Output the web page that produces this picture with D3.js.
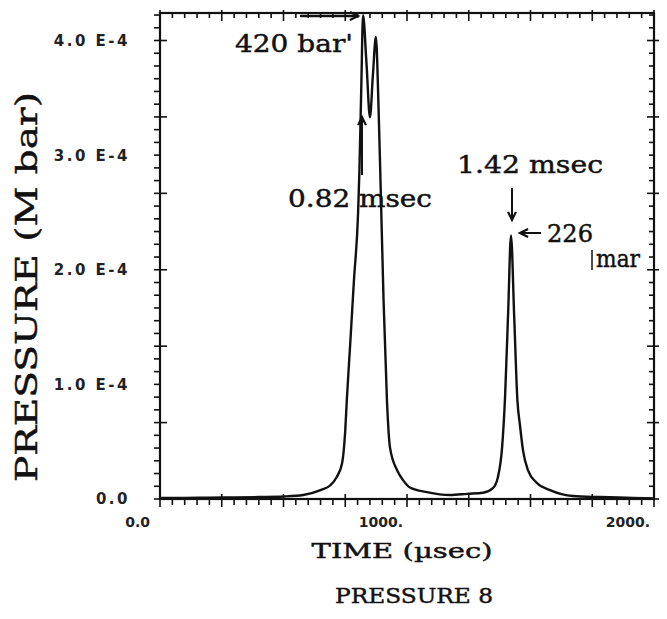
<!DOCTYPE html>
<html>
<head>
<meta charset="utf-8">
<script src="https://cdn.jsdelivr.net/npm/d3@7"></script>
<style>
  body { margin: 0; background: #fff; }
  svg { display: block; }
  .ann { font-family: "DejaVu Serif", serif; fill: #111; stroke: #111; stroke-width: 0.45px; }
  .tick-lbl { font-family: "DejaVu Sans", sans-serif; font-weight: bold; fill: #222; }
</style>
</head>
<body>
<svg width="667" height="619"></svg>
<script>
// time in usec, pressure in units of 1e-4 M bar
var timeUs = [0, 100, 200, 300, 400, 500, 580, 650, 690, 715, 737, 750, 757, 770, 785, 802, 807, 815, 822, 836, 850, 862, 874, 885, 893, 905, 919, 931, 960, 984, 1012, 1081, 1174, 1243, 1308, 1348, 1368, 1385, 1397, 1410, 1421, 1434, 1447, 1457, 1470, 1490, 1526, 1579, 1672, 1781, 1915, 2000];
var pressure = [0.010, 0.010, 0.012, 0.014, 0.017, 0.022, 0.035, 0.078, 0.12, 0.19, 0.31, 0.60, 0.89, 1.35, 1.90, 2.50, 2.84, 3.60, 4.22, 3.80, 3.33, 3.70, 4.03, 3.40, 2.75, 1.74, 0.85, 0.45, 0.25, 0.165, 0.10, 0.06, 0.035, 0.045, 0.055, 0.095, 0.19, 0.45, 0.89, 1.66, 2.30, 1.59, 0.86, 0.65, 0.42, 0.25, 0.14, 0.078, 0.026, 0.017, 0.010, 0.005];

var xTickVals = [0, 1000, 2000];
var xTickText = ["0.0", "1000.", "2000."];
var yTickVals = [0, 1, 2, 3, 4];
var yTickText = ["0.0", "1.0 E-4", "2.0 E-4", "3.0 E-4", "4.0 E-4"];

var svg = d3.select("svg");
var L = 160, R = 654, T = 13, B = 499;

var x = d3.scaleLinear().domain([0, 2000]).range([L, R]);
var y = d3.scaleLinear().domain([0, 4.24]).range([B, T]);

svg.append("rect").attr("width", 667).attr("height", 619).attr("fill", "#fff");

// tick marks (frame style of old plotter)
var frame = svg.append("g").attr("stroke", "#111").attr("fill", "none");

// x: minor every 50, major every 250
d3.range(0, 2001, 50).forEach(function(v) {
    var major = v % 250 === 0;
    var px = x(v);
    frame.append("line").attr("x1", px).attr("x2", px)
        .attr("y1", major ? B - 5 : B).attr("y2", B + (major ? 8 : 6))
        .attr("stroke-width", 1.6);
    frame.append("line").attr("x1", px).attr("x2", px)
        .attr("y1", T - (major ? 3 : 0)).attr("y2", T + (major ? 8 : 5))
        .attr("stroke-width", 1.6);
});

// y: major every 2/3, minor every 1/9
d3.range(0, 39).forEach(function(i) {
    var v = i / 9;
    if (v > 4.24) return;
    var major = i % 6 === 0;
    var py = y(v);
    frame.append("line").attr("y1", py).attr("y2", py)
        .attr("x1", L - 6).attr("x2", L + (major ? 7 : 0))
        .attr("stroke-width", 1.6);
    frame.append("line").attr("y1", py).attr("y2", py)
        .attr("x1", R - (major ? 7 : 5)).attr("x2", R + (major ? 5 : 1))
        .attr("stroke-width", 1.6);
});

frame.append("rect")
    .attr("x", L).attr("y", T)
    .attr("width", R - L).attr("height", B - T)
    .attr("stroke-width", 2.2);

// tick labels
svg.selectAll(".ylbl").data(yTickVals).enter().append("text")
    .attr("class", "tick-lbl ylbl")
    .attr("x", 130)
    .attr("y", function(d) { return y(d); })
    .attr("dy", "0.36em")
    .attr("text-anchor", "end")
    .style("font-size", "15px")
    .style("letter-spacing", "2.5px")
    .text(function(d, i) { return yTickText[i]; });

svg.selectAll(".xlbl").data(xTickVals).enter().append("text")
    .attr("class", "tick-lbl xlbl")
    .attr("x", function(d, i) { return x(d) - (i === 0 ? 10 : 4); })
    .attr("y", 527)
    .attr("text-anchor", "end")
    .style("font-size", "14px")
    .text(function(d, i) { return xTickText[i]; });

// curve
var line = d3.line()
    .x(function(d, i) { return x(timeUs[i]); })
    .y(function(d) { return y(d); })
    .curve(d3.curveMonotoneX);

svg.append("path")
    .datum(pressure)
    .attr("d", line)
    .attr("fill", "none")
    .attr("stroke", "#111")
    .attr("stroke-width", 2.4)
    .attr("stroke-linejoin", "round");

// text helper: serif stretched to the measured width, typewriter-like
function label(g, txt, xPos, yPos, size, width, anchor) {
    return g.append("text").attr("class", "ann")
        .attr("x", xPos).attr("y", yPos)
        .attr("text-anchor", anchor || "start")
        .style("font-size", size + "px")
        .attr("textLength", width).attr("lengthAdjust", "spacingAndGlyphs")
        .text(txt);
}

// axis titles
label(svg, "PRESSURE (M bar)", 0, 0, 30, 390, "middle")
    .attr("transform", "translate(37,287) rotate(-90)");
label(svg, "TIME (\u00b5sec)", 402, 558, 21, 181, "middle");
label(svg, "PRESSURE 8", 414, 603, 21, 158, "middle");

// annotations
function arrowHead(g, tx, ty, ang) {
    // ang: direction the arrow points, in degrees
    var a = ang * Math.PI / 180, s = 9, w = 0.45;
    var p1 = [tx - s * Math.cos(a - w), ty - s * Math.sin(a - w)];
    var p2 = [tx - s * Math.cos(a + w), ty - s * Math.sin(a + w)];
    g.append("path")
        .attr("d", "M" + p1 + "L" + [tx, ty] + "L" + p2)
        .attr("fill", "none").attr("stroke", "#111").attr("stroke-width", 2.2);
}

var ann = svg.append("g");

// 420 bar peak
label(ann, "420 bar'", 235, 52, 24, 118);
ann.append("line").attr("x1", 300).attr("x2", x(822) - 6).attr("y1", 16).attr("y2", 16)
    .attr("stroke", "#111").attr("stroke-width", 2.4);
arrowHead(ann, x(822) - 5, 16, 0);

// 0.82 msec
label(ann, "0.82 msec", 288, 207, 24, 144);
ann.append("line").attr("x1", 362).attr("x2", 362).attr("y1", 175).attr("y2", 118)
    .attr("stroke", "#111").attr("stroke-width", 2);
arrowHead(ann, 362, 117, -90);

// 1.42 msec
label(ann, "1.42 msec", 457, 173, 24, 146);
ann.append("line").attr("x1", 512).attr("x2", 512).attr("y1", 188).attr("y2", 219)
    .attr("stroke", "#111").attr("stroke-width", 2);
arrowHead(ann, 512, 220, 90);

// 226 mbar
label(ann, "226", 547, 242, 24, 46);
ann.append("line").attr("x1", 541).attr("x2", 521).attr("y1", 233).attr("y2", 233)
    .attr("stroke", "#111").attr("stroke-width", 2);
arrowHead(ann, 520, 233, 180);
ann.append("line").attr("x1", 592).attr("x2", 592).attr("y1", 250).attr("y2", 270)
    .attr("stroke", "#111").attr("stroke-width", 1.5);
label(ann, "mar", 596, 267, 24, 44);
</script>
</body>
</html>
